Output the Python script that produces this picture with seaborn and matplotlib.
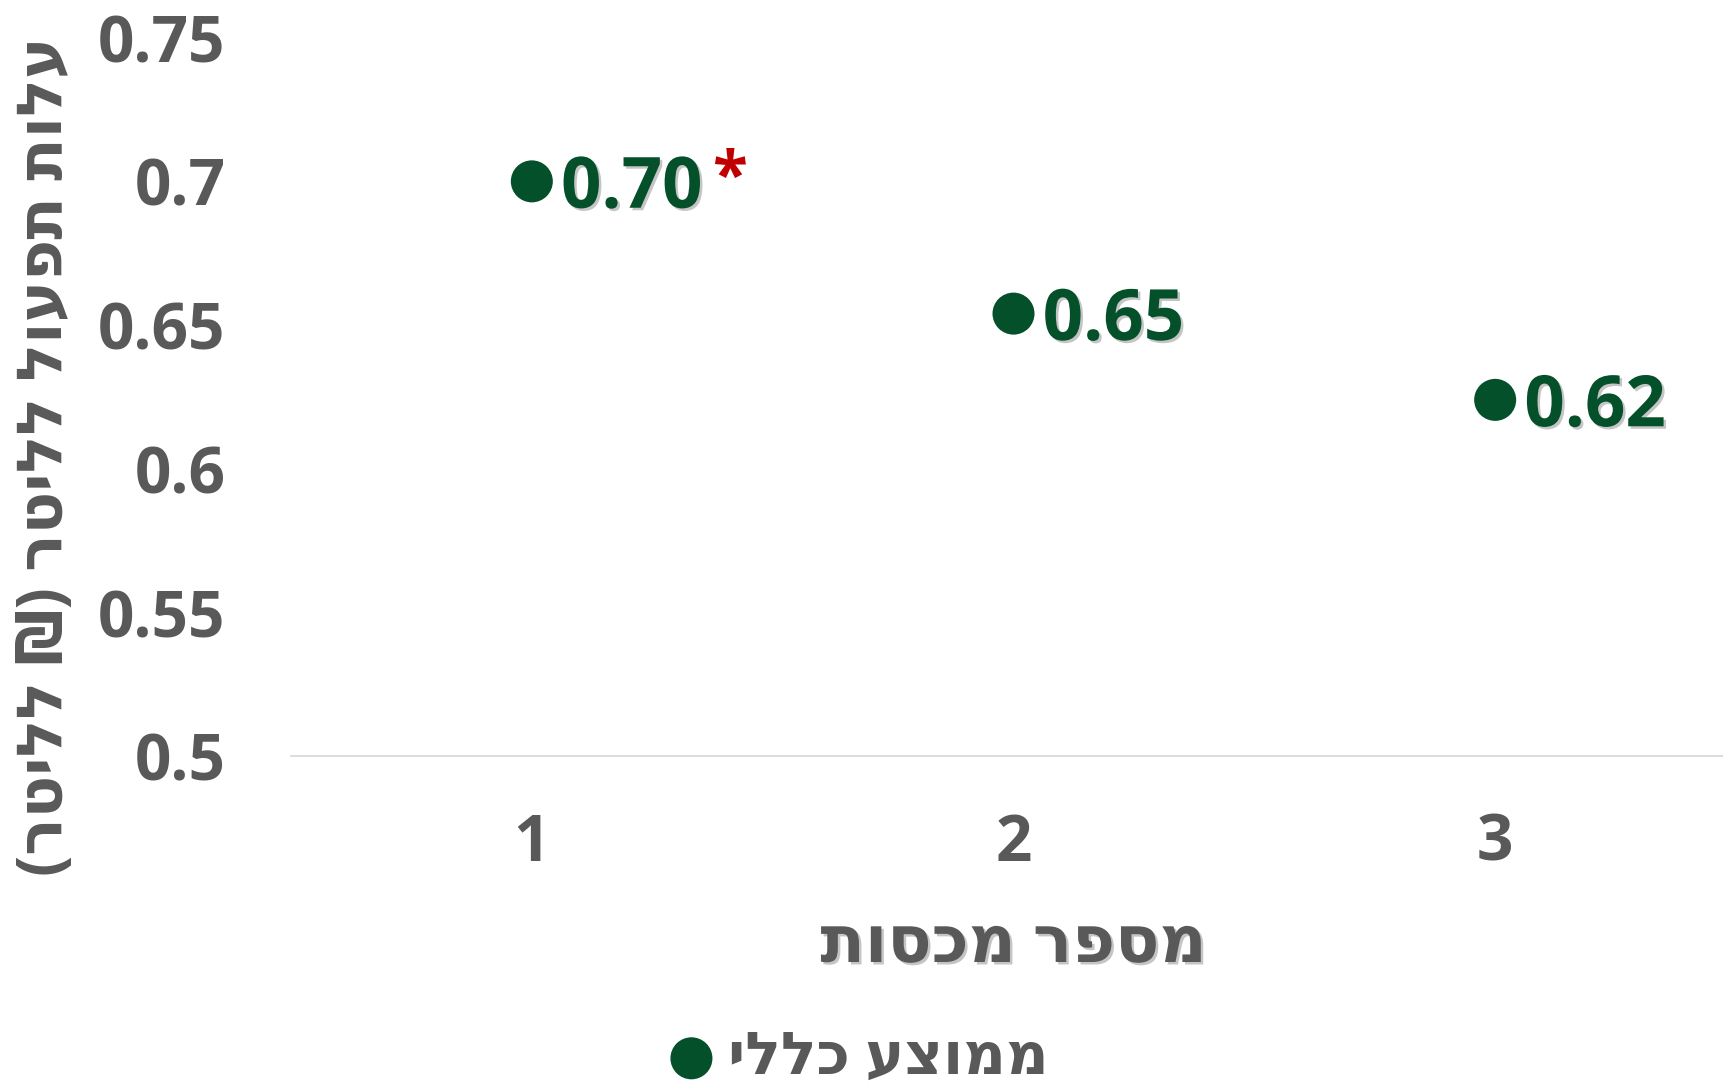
import numpy as np
import pandas as pd
import matplotlib
matplotlib.use("Agg")
import matplotlib.pyplot as plt
import matplotlib.patheffects as pe
import seaborn as sns

# ---------------- data ----------------
quota_counts = [1, 2, 3]
avg_cost = [0.700, 0.654, 0.624]
point_labels = ["0.70", "0.65", "0.62"]
significance = ["*", "", ""]
y_ticks = [0.5, 0.55, 0.6, 0.65, 0.7, 0.75]
y_tick_labels = ["0.5", "0.55", "0.6", "0.65", "0.7", "0.75"]
x_tick_labels = ["1", "2", "3"]
x_label = "מספר מכסות"
y_label = "עלות תפעול לליטר (₪ לליטר)"
legend_label = "ממוצע כללי"

GREEN = "#03502A"
GRAY = "#595959"
RED = "#C00000"
FAM = ["Open Sans", "DejaVu Sans"]


def visual(s):
    """Convert logical RTL Hebrew to visual (LTR drawing) order."""
    return s[::-1].translate(str.maketrans("()", ")("))


sns.set_theme(style="white")
plt.rcParams["font.family"] = FAM

W, H = 1724, 1081
fig = plt.figure(figsize=(W / 100, H / 100), dpi=100)
ax_left, ax_right = 291, 1736
ax_top, ax_bottom = 37.6, 756.4
ax = fig.add_axes([ax_left / W, (H - ax_bottom) / H,
                   (ax_right - ax_left) / W, (ax_bottom - ax_top) / H])

df = pd.DataFrame({"quota": quota_counts, "cost": avg_cost})
sns.scatterplot(data=df, x="quota", y="cost", color=GREEN, s=915,
                edgecolor="none", linewidth=0, label=visual(legend_label),
                ax=ax, zorder=3, clip_on=False)

ax.set_xlim(0.5, 3.5)
ax.set_ylim(0.5, 0.75)
ax.set_xticks(quota_counts)
ax.set_xticklabels(x_tick_labels)
ax.set_yticks(y_ticks)
ax.set_yticklabels(y_tick_labels)
ax.tick_params(axis="both", length=0, labelsize=46, labelcolor=GRAY)
ax.tick_params(axis="y", pad=47)
ax.tick_params(axis="x", pad=40)
for lab in ax.get_xticklabels() + ax.get_yticklabels():
    lab.set_fontweight("bold")

for side in ["top", "right", "left"]:
    ax.spines[side].set_visible(False)
ax.spines["bottom"].set_color("#D9D9D9")
ax.spines["bottom"].set_linewidth(1.3)
ax.grid(False)

shadow = [pe.withSimplePatchShadow(offset=(1.8, -1.8), shadow_rgbFace="#808080", alpha=0.45)]

for x, y, lab, sig in zip(quota_counts, avg_cost, point_labels, significance):
    ax.annotate(lab, (x, y), xytext=(21, -19), textcoords="offset points",
                ha="left", va="baseline", fontsize=51, fontweight="bold",
                color=GREEN, path_effects=shadow, zorder=4)
    if sig:
        ax.annotate(sig, (x, y), xytext=(142, -11.5), textcoords="offset points",
                    ha="center", va="baseline", fontsize=46, fontweight="bold",
                    color=RED, zorder=4)

ax.set_xlabel(visual(x_label), fontsize=47, fontweight="bold", color=GRAY,
              path_effects=shadow)
ax.xaxis.set_label_coords(0.5, -(962 - ax_bottom) / (ax_bottom - ax_top))
ax.xaxis.label.set_va("baseline")

ax.set_ylabel(visual(y_label), fontsize=45, fontweight="bold", color=GRAY)
ax.yaxis.set_label_coords((45 - ax_left) / (ax_right - ax_left),
                          (ax_bottom - 456) / (ax_bottom - ax_top))
ax.yaxis.label.set_va("center")

leg = ax.legend(loc="center", bbox_to_anchor=(0.497, 0.021),
                bbox_transform=fig.transFigure, frameon=False,
                prop={"size": 42.5, "weight": "bold", "family": FAM},
                labelcolor=GRAY, handlelength=0.9, handletextpad=0.17,
                borderpad=0)

fig.savefig("out.png", dpi=100)
